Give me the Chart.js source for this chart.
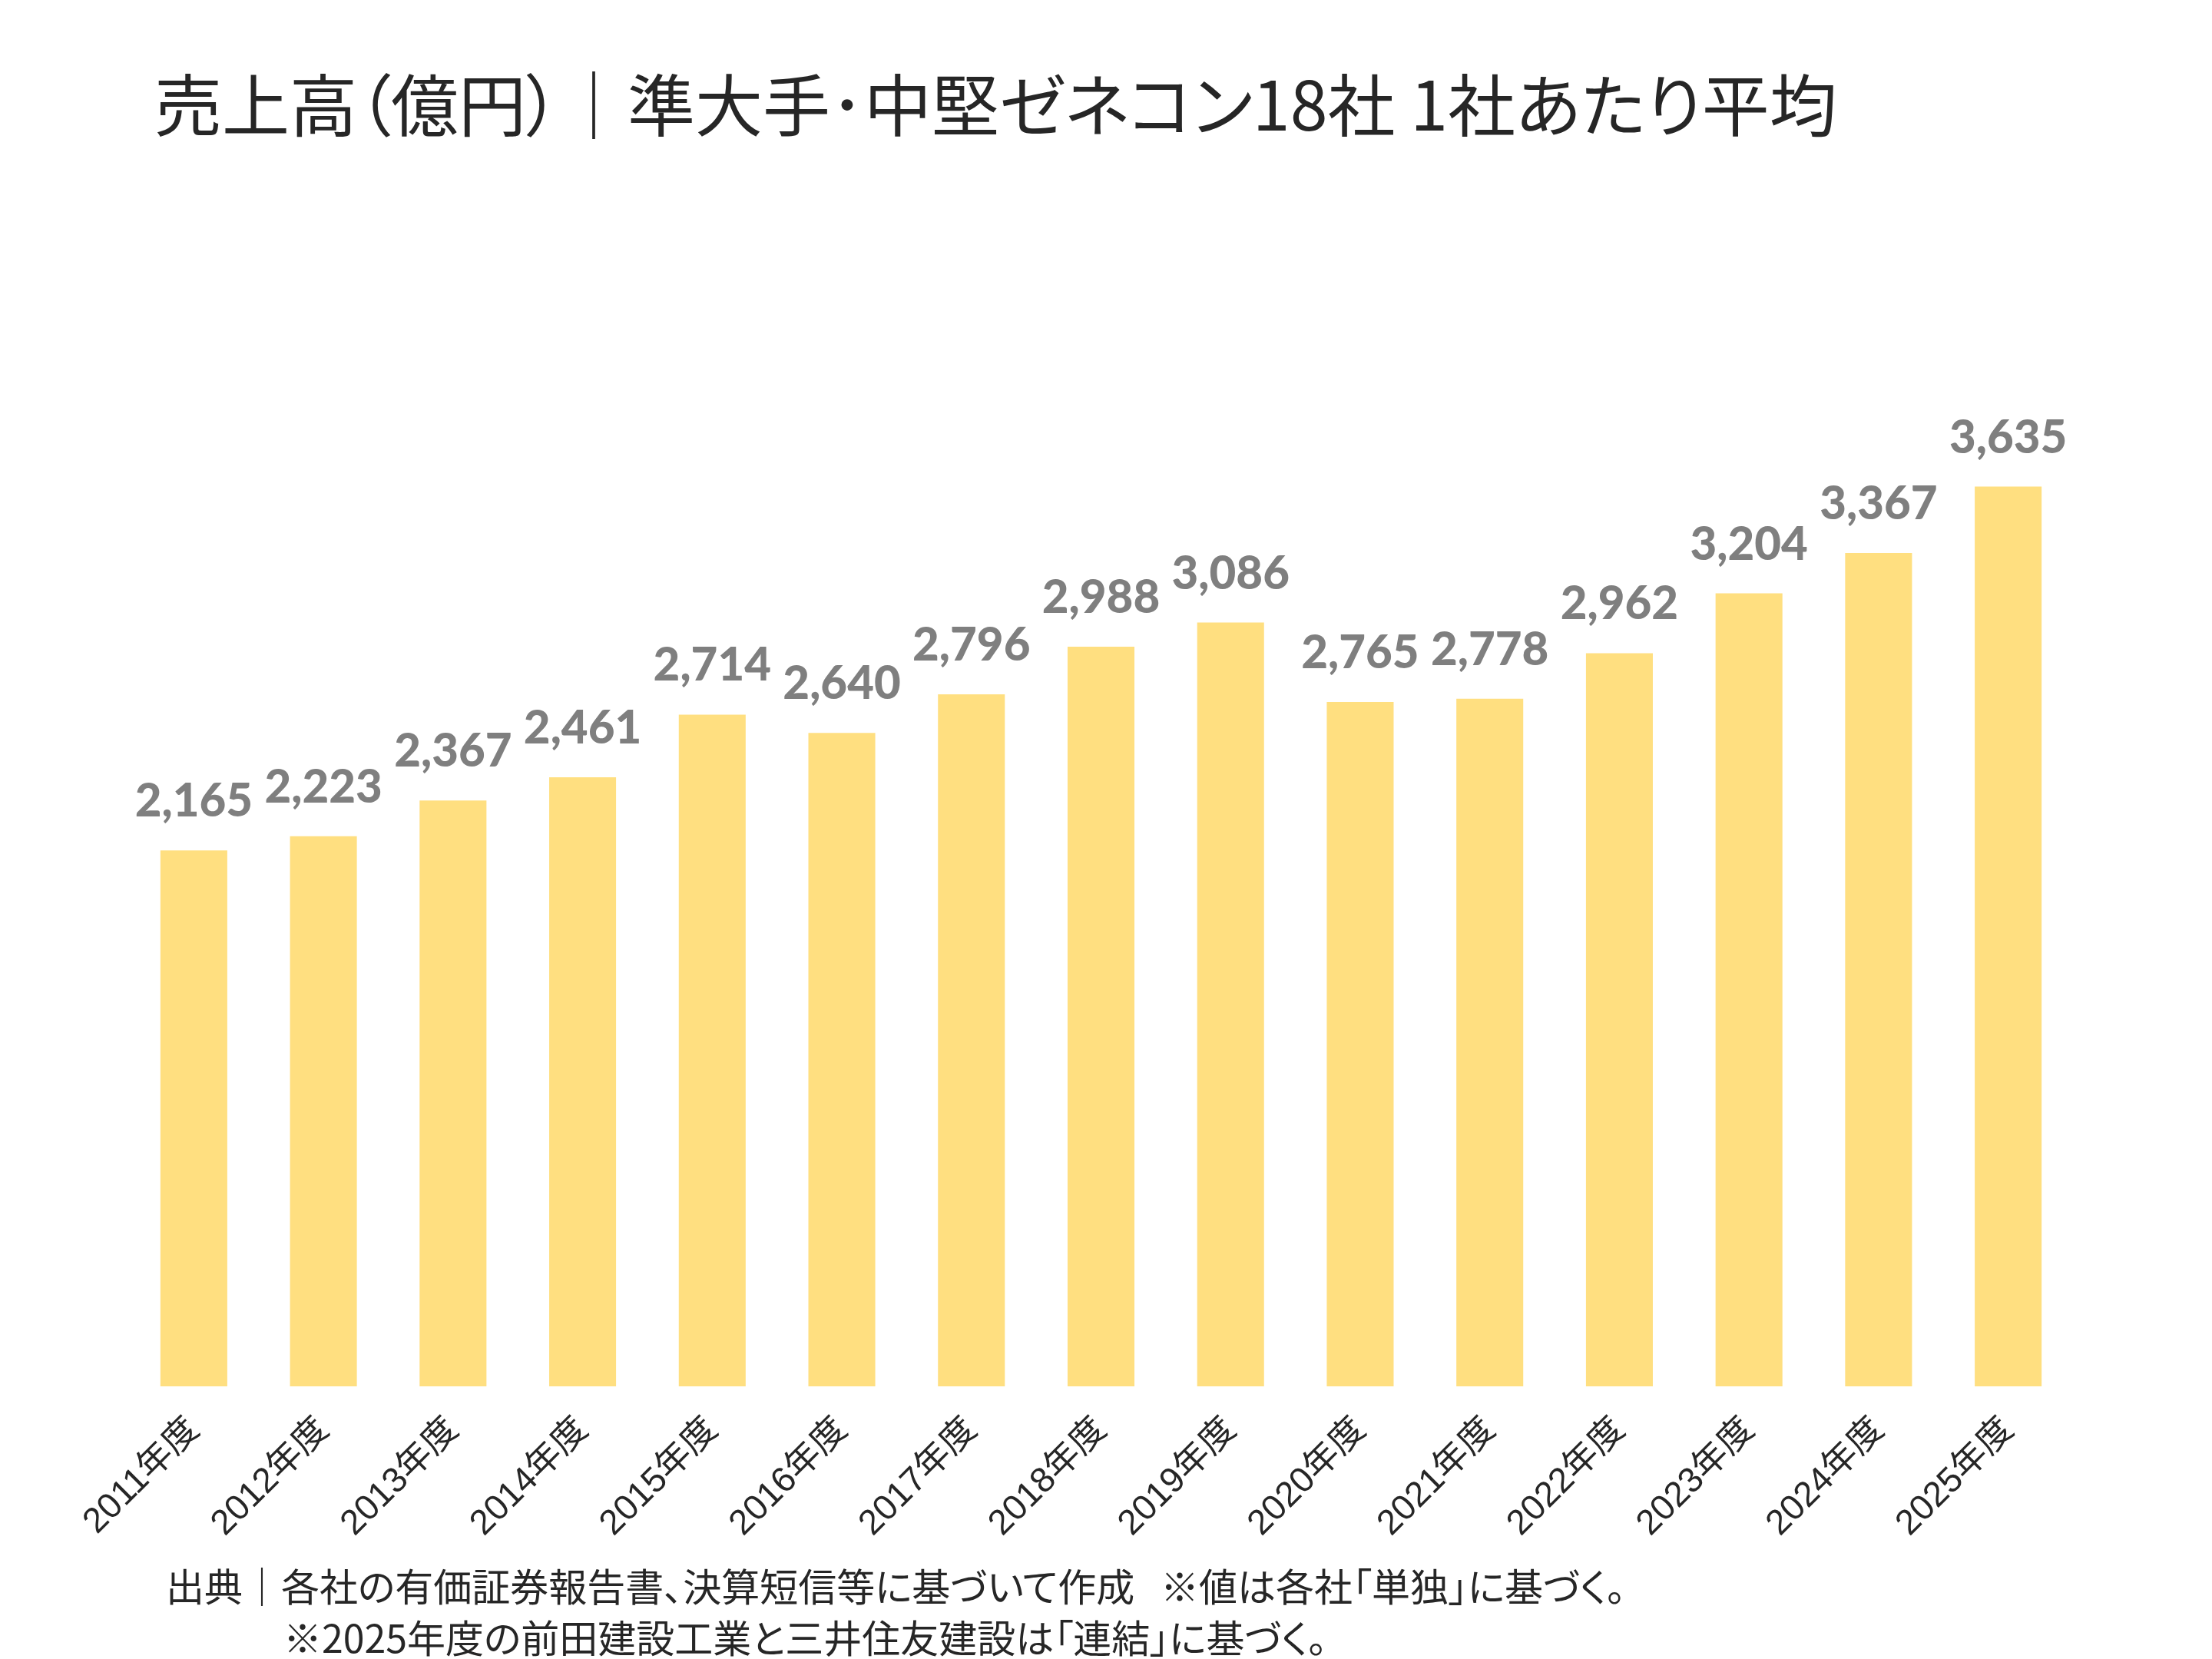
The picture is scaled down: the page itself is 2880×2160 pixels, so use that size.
<!DOCTYPE html>
<html lang="ja">
<head>
<meta charset="utf-8">
<script src="https://cdn.jsdelivr.net/npm/chart.js@4.4.1/dist/chart.umd.min.js"></script>
<style>
  html, body { margin: 0; padding: 0; background: #ffffff; }
  #wrap { position: relative; width: 2880px; height: 2160px; overflow: hidden; background: #fff; }
  #c { position: absolute; left: 0; top: 0; }
  .txt { position: absolute; white-space: pre; font-family: "Noto Sans CJK JP", sans-serif;
         font-feature-settings: "palt"; color: #262626; line-height: 1; }
  #title { left: 201px; top: 88px; font-size: 88px; }
  #note1 { left: 216px; top: 2038px; font-size: 50px; }
  #note2 { left: 369px; top: 2105px; font-size: 50px; }
</style>
</head>
<body>
<div id="wrap">
  <canvas id="c" width="2880" height="2160"></canvas>
  <div class="txt" id="title">売上高（億円）｜準大手･中堅ゼネコン18社 1社あたり平均</div>
  <div class="txt" id="note1">出典｜各社の有価証券報告書、決算短信等に基づいて作成   ※値は各社「単独」に基づく。</div>
  <div class="txt" id="note2">※2025年度の前田建設工業と三井住友建設は「連結」に基づく。</div>
</div>
<script>
const categories = ["2011年度","2012年度","2013年度","2014年度","2015年度","2016年度","2017年度","2018年度","2019年度","2020年度","2021年度","2022年度","2023年度","2024年度","2025年度"];
const salesAvg = [2165, 2223, 2367, 2461, 2714, 2640, 2796, 2988, 3086, 2765, 2778, 2962, 3204, 3367, 3635];
const yRange = [0, 4000];

const valueLabels = {
  id: 'valueLabels',
  afterDatasetsDraw(chart) {
    const ctx = chart.ctx;
    const meta = chart.getDatasetMeta(0);
    ctx.save();
    ctx.font = '900 60px Lato, "Open Sans", sans-serif';
    ctx.fillStyle = '#7f7f7f';
    ctx.textAlign = 'center';
    ctx.textBaseline = 'alphabetic';
    meta.data.forEach((bar, i) => {
      const v = chart.data.datasets[0].data[i];
      ctx.fillText(v.toLocaleString('en-US'), bar.x, bar.y - 44);
    });
    ctx.restore();
  }
};

new Chart(document.getElementById('c'), {
  type: 'bar',
  data: {
    labels: categories,
    datasets: [{
      data: salesAvg,
      backgroundColor: '#FFDF80',
      borderWidth: 0,
      barPercentage: 0.516,
      categoryPercentage: 1.0
    }]
  },
  options: {
    responsive: false,
    devicePixelRatio: 1,
    animation: false,
    layout: { padding: { left: 168, right: 181, top: 516, bottom: 105 } },
    plugins: { legend: { display: false }, title: { display: false }, tooltip: { enabled: false } },
    scales: {
      x: {
        grid: { display: false, drawTicks: false },
        border: { display: false },
        ticks: {
          color: '#262626',
          font: { family: '"Liberation Sans", Arial, "Noto Sans CJK JP", sans-serif', size: 46 },
          maxRotation: 45, minRotation: 45,
          padding: 30,
          autoSkip: false
        },
        afterFit(scale) { scale.height = 250; scale.paddingLeft = 0; scale.paddingRight = 0; }
      },
      y: {
        display: false,
        min: yRange[0], max: yRange[1]
      }
    }
  },
  plugins: [valueLabels]
});
</script>
</body>
</html>
